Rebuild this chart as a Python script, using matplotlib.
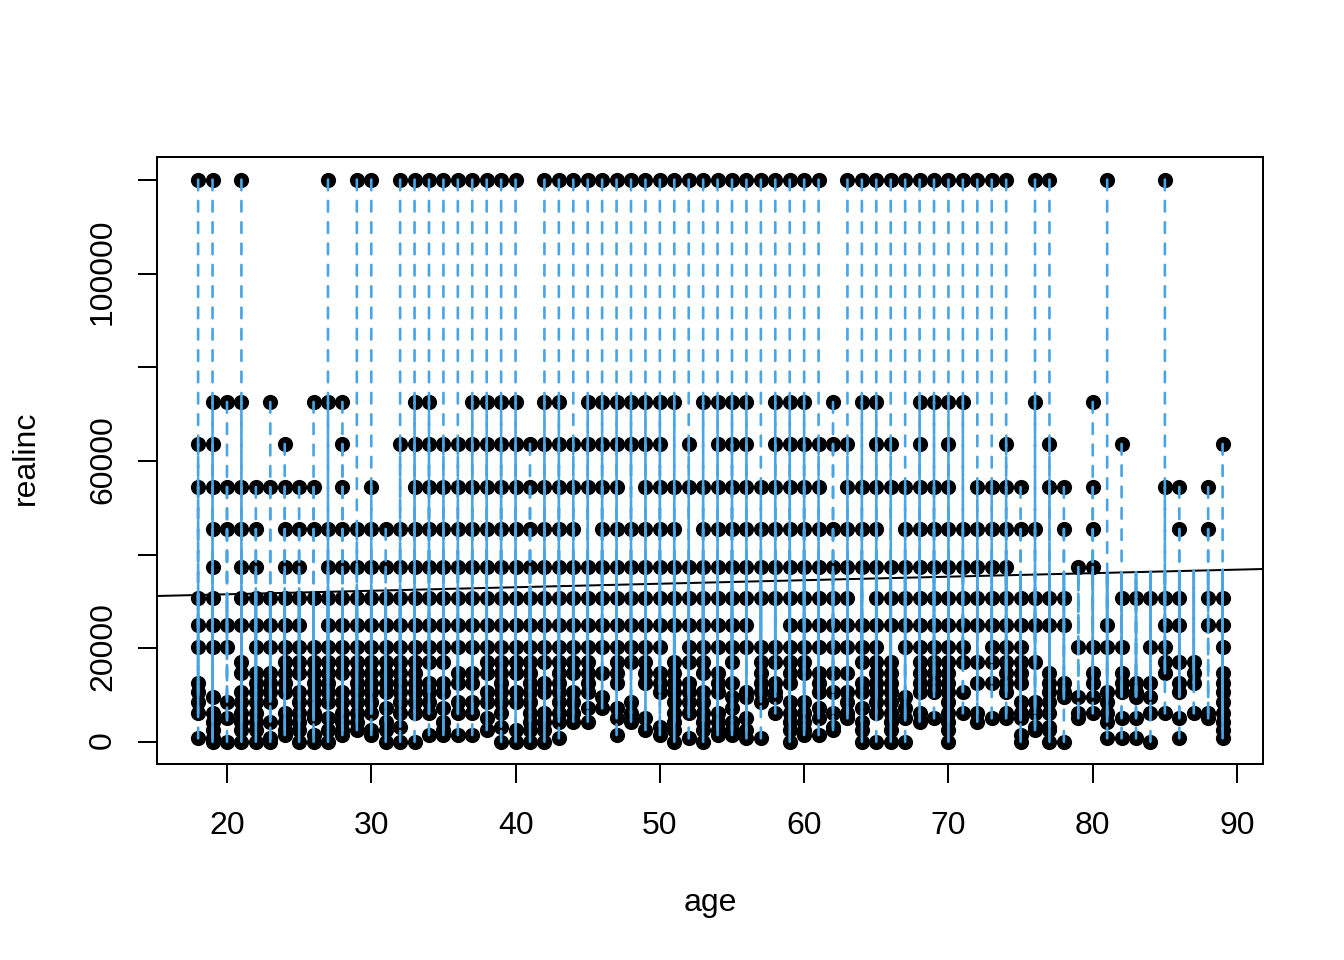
from matplotlib import pyplot as plt
from matplotlib.transforms import ScaledTranslation

plt.rcParams['font.family'] = ['Liberation Sans', 'DejaVu Sans']

# income levels that are well separated, with the ages seen on each
ages_120100 = [18, 19, 21, 27, 29, 30, 32, 33, 34, 35, 36, 37, 38, 39, 40, 42, 43, 44, 45, 46, 47, 48, 49, 50,
               51, 52, 53, 54, 55, 56, 57, 58, 59, 60, 61, 63, 64, 65, 66, 67, 68, 69, 70, 71, 72, 73, 74, 76, 77, 81, 85]
ages_72600 = [19, 20, 21, 23, 26, 27, 28, 33, 34, 37, 38, 39, 40, 42, 43, 45, 46, 47, 48, 49, 50, 51, 53, 54,
              55, 56, 58, 59, 60, 62, 64, 65, 68, 69, 70, 71, 76, 80]
ages_63640 = [18, 19, 24, 28, 32, 33, 34, 35, 36, 37, 38, 39, 40, 41, 42, 43, 44, 45, 46, 47, 48, 49, 50, 52,
              54, 55, 56, 58, 59, 60, 61, 62, 63, 65, 66, 68, 70, 74, 77, 82, 89]
ages_54450 = [18, 19, 20, 21, 22, 23, 24, 25, 26, 28, 30, 33, 34, 35, 36, 37, 38, 39, 40, 41, 42, 43, 44, 45,
              46, 47, 49, 50, 51, 52, 53, 54, 55, 56, 57, 58, 59, 60, 61, 63, 64, 65, 66, 67, 68, 69, 70,
              72, 73, 74, 75, 77, 78, 80, 85, 86, 88]
ages_45480 = [19, 20, 21, 22, 24, 25, 26, 27, 28, 29, 30, 31, 32, 33, 34, 35, 36, 37, 38, 39, 40, 41, 42, 43, 44,
              46, 47, 48, 49, 50, 51, 53, 54, 55, 56, 57, 58, 59, 60, 61, 62, 63, 64, 65,
              67, 68, 69, 70, 71, 72, 73, 74, 75, 76, 78, 80, 86, 88]
ages_37370 = [19, 21, 22, 24, 25] + list(range(27, 75)) + [79, 80]
ages_30750 = [18, 19] + list(range(21, 64)) + list(range(65, 79)) + [82, 83, 84, 85, 86, 88, 89]
ages_24980 = list(range(18, 26)) + list(range(27, 57)) + list(range(59, 79)) + [81, 85, 86, 88, 89]
ages_20290 = [18, 19, 20] + list(range(22, 51)) + list(range(52, 66)) + [67, 68, 69, 70, 71, 73, 74, 75,
              79, 80, 81, 82, 84, 85, 89]
top_levels = [120100, 72600, 63640, 54450, 45480, 37370, 30750, 24980, 20290]
top_ages = [ages_120100, ages_72600, ages_63640, ages_54450, ages_45480, ages_37370, ages_30750, ages_24980,
            ages_20290]

# dense lower band, read column by column: indices into low_levels, one row per age from 18 to 89
low_levels = [17150, 14670, 12530, 10740, 9670, 8610, 7190, 6120, 5060, 4340, 3270, 2560, 1490, 790, 60]
low_ages = list(range(18, 90))
low_rows = [
    [2, 3, 5, 7, 13], [4, 7, 9, 11, 13, 14], [5, 8, 14], [0, 1, 3, 5, 7, 9, 11, 14],
    [1, 2, 3, 5, 7, 9, 11, 14], [1, 2, 3, 5, 9, 13, 14], [0, 1, 2, 3, 7, 9, 11, 12], [0, 1, 3, 5, 7, 9, 11, 14],
    [0, 1, 2, 3, 5, 7, 8, 12, 14], [0, 1, 2, 3, 5, 8, 11, 14], [0, 1, 3, 5, 7, 9, 11, 12], [0, 1, 2, 3, 5, 7, 9, 11],
    [0, 1, 2, 3, 5, 7, 11, 12], [0, 1, 2, 3, 6, 9, 11, 14], [0, 1, 2, 3, 5, 7, 10, 14], [0, 1, 2, 3, 5, 7, 14],
    [0, 2, 3, 5, 7, 12], [0, 2, 3, 6, 9, 11, 12], [1, 2, 5, 7, 12], [1, 2, 5, 7, 12],
    [0, 1, 3, 5, 8, 11], [0, 1, 2, 3, 5, 7, 10, 14], [0, 1, 3, 5, 11, 14], [0, 1, 2, 3, 5, 7, 9, 11, 14],
    [0, 2, 3, 7, 9, 11, 14], [0, 1, 2, 3, 5, 7, 9, 13], [0, 1, 3, 5, 7, 9], [0, 1, 2, 3, 6, 9],
    [1, 4, 6], [0, 1, 2, 6, 8, 12], [0, 5, 7, 9], [0, 1, 2, 8, 11],
    [1, 2, 3, 10, 12], [0, 1, 2, 3, 5, 7, 9, 11, 14], [0, 2, 3, 5, 7, 13], [0, 1, 3, 5, 7, 9, 11, 14],
    [1, 2, 3, 7, 9, 11, 12], [0, 2, 4, 6, 9, 11, 12], [3, 4, 8, 11, 13], [0, 1, 2, 3, 5, 13],
    [0, 2, 3, 4, 7], [0, 1, 2, 5, 7, 9, 11, 14], [0, 1, 5, 7, 9, 11, 12], [1, 2, 3, 6, 8, 12],
    [1, 3, 7, 10, 11], [1, 3, 5, 7, 8], [0, 2, 3, 6, 9, 11, 14], [0, 1, 2, 3, 5, 7, 14],
    [0, 1, 2, 3, 5, 7, 9, 11, 14], [4, 6, 8, 14], [0, 1, 2, 3, 7, 9], [0, 1, 2, 3, 8],
    [0, 1, 2, 3, 5, 7, 9, 11, 14], [0, 3, 7], [0, 2, 7, 9], [0, 2, 8],
    [0, 1, 2, 3, 7, 8], [0, 1, 2, 5, 7, 8, 12, 14], [0, 5, 7, 10, 11], [1, 2, 3, 5, 7, 10, 11, 14],
    [2, 3, 4, 14], [4, 7, 8], [1, 2, 4, 7], [3, 5, 7, 9, 13],
    [1, 2, 3, 8, 13], [2, 3, 4, 8, 13], [2, 4, 7, 14], [0, 1, 7],
    [0, 2, 3, 8, 13], [0, 1, 2, 7], [7, 8], [1, 2, 3, 5, 7, 9, 11, 13],
]

# fitted line
intercept = 30040
slope = 75.15

x_ticks = list(range(20, 100, 10))
y_ticks = list(range(0, 140000, 20000))
y_tick_labels = ['0', '20000', '', '60000', '', '100000', '']

age = []
realinc = []
for level, ages in zip(top_levels, top_ages):
    for a in ages:
        age.append(a)
        realinc.append(level)
for a, row in zip(low_ages, low_rows):
    for i in row:
        age.append(a)
        realinc.append(low_levels[i])
fitted = [intercept + slope * a for a in age]

W, H = 1344, 960
fig = plt.figure(figsize=(7, 5), dpi=192)
ax = fig.add_axes([157 / W, 1 - 764 / H, (1263 - 157) / W, (764 - 157) / H])

ax.plot(age, realinc, 'o', color='black', markersize=5.7, markeredgewidth=0, zorder=2)

xlim = (15.15, 91.8)
ax.plot(xlim, [intercept + slope * v for v in xlim], color='black', linewidth=0.75, zorder=3)

# residuals start at the point, so dashes overlap into solid runs near the fit
ax.vlines(age, realinc, fitted, colors='#4aa5e4', linewidth=1.0, linestyles=(0, (4, 4)),
          capstyle='round', snap=False, zorder=4)

ax.set_xlim(xlim)
ax.set_ylim(-4698, 124920)

ax.set_xticks(x_ticks)
ax.set_yticks(y_ticks)
ax.set_yticklabels(y_tick_labels, rotation=90, va='center')
ax.tick_params(axis='both', length=7.2, width=0.75, labelsize=12, color='black')
ax.tick_params(axis='x', pad=10.5)
ax.tick_params(axis='y', pad=7.4)
for spine in ax.spines.values():
    spine.set_linewidth(0.75)

# rotated labels sit a little low otherwise
nudge = ScaledTranslation(0, 1.5 / 192, fig.dpi_scale_trans)
for label in ax.get_yticklabels():
    label.set_transform(label.get_transform() + nudge)

ax.set_xlabel('age', fontsize=12)
ax.set_ylabel('realinc', fontsize=12)
ax.xaxis.set_label_coords(0.5, -(903 - 764) / (764 - 157), transform=ax.transAxes)
ax.xaxis.label.set_va('center')
ax.yaxis.set_label_coords(-(157 - 26) / (1263 - 157), 0.5 + 3 / 607, transform=ax.transAxes)
ax.yaxis.label.set_va('center')

plt.savefig('out.png')
